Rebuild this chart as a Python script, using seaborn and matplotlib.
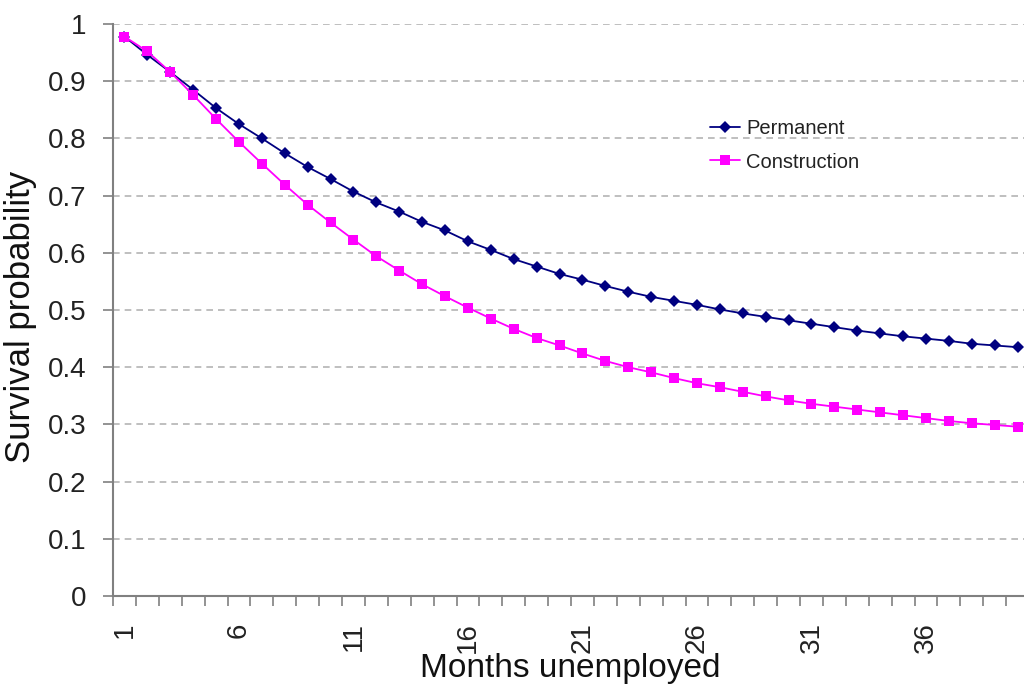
import numpy as np
import pandas as pd
import matplotlib
matplotlib.use("Agg")
import matplotlib.pyplot as plt
import seaborn as sns

# ---- data ----
months = list(range(1, 41))
permanent = [0.978, 0.946, 0.916, 0.885, 0.853, 0.825, 0.800, 0.774, 0.750, 0.729,
             0.707, 0.688, 0.672, 0.654, 0.639, 0.620, 0.605, 0.589, 0.576, 0.563,
             0.553, 0.542, 0.532, 0.523, 0.516, 0.509, 0.501, 0.494, 0.488, 0.482,
             0.476, 0.470, 0.464, 0.459, 0.454, 0.450, 0.446, 0.441, 0.438, 0.435]
construction = [0.978, 0.952, 0.916, 0.876, 0.834, 0.794, 0.756, 0.719, 0.684, 0.653,
                0.623, 0.594, 0.569, 0.545, 0.524, 0.504, 0.485, 0.467, 0.451, 0.438,
                0.424, 0.411, 0.400, 0.391, 0.381, 0.372, 0.365, 0.357, 0.349, 0.342,
                0.336, 0.331, 0.326, 0.321, 0.316, 0.311, 0.306, 0.302, 0.299, 0.296]
series_names = ["Permanent", "Construction"]
x_tick_labels = ["1", "6", "11", "16", "21", "26", "31", "36"]
y_tick_values = [0, 0.1, 0.2, 0.3, 0.4, 0.5, 0.6, 0.7, 0.8, 0.9, 1.0]
y_tick_labels = ["0", "0.1", "0.2", "0.3", "0.4", "0.5", "0.6", "0.7", "0.8", "0.9", "1"]

df = pd.DataFrame({
    "month": months * 2,
    "prob": permanent + construction,
    "series": [series_names[0]] * len(months) + [series_names[1]] * len(months),
})

sns.set_theme(style="white")
plt.rcParams["font.family"] = ["Liberation Sans", "DejaVu Sans"]

fig = plt.figure(figsize=(10.24, 6.96), dpi=100)
ax = fig.add_axes([113 / 1024, 1 - 596 / 696, 916 / 1024, 572 / 696])

colors = {"Permanent": "#000080", "Construction": "#ff00ff"}
markers = {"Permanent": "D", "Construction": "s"}
sizes = {"Permanent": 6, "Construction": 7}
for name in series_names:
    sub = df[df["series"] == name]
    sns.lineplot(data=sub, x="month", y="prob", ax=ax, color=colors[name],
                 marker=markers[name], markersize=sizes[name], markeredgewidth=0,
                 linewidth=1.3, label=name)

# axes limits and grid
ax.set_xlim(0.5, 40.5)
ax.set_ylim(0, 1)
for v in y_tick_values[1:]:
    ax.axhline(v, color="#b4b4b4", linewidth=1.2, linestyle=(0, (4, 3)), zorder=0)

# y ticks
ax.set_yticks(y_tick_values)
ax.set_yticklabels(y_tick_labels)
ax.tick_params(axis="y", which="major", direction="out", length=7, width=1.2,
               color="#808080", labelsize=20, pad=12, left=True, labelcolor="#222222")

# x ticks: labels at every 5th month, tick marks at category boundaries
label_pos = [int(s) for s in x_tick_labels]
ax.set_xticks(label_pos)
ax.set_xticklabels(x_tick_labels, rotation=90, va="top")
ax.set_xticks(np.arange(0.5, 41, 1.0), minor=True)
ax.tick_params(axis="x", which="major", length=0, labelsize=20, pad=19,
               labelcolor="#222222")
ax.tick_params(axis="x", which="minor", direction="out", length=7, width=1.2,
               color="#808080", bottom=True)

for s in ["top", "right"]:
    ax.spines[s].set_visible(False)
for s in ["left", "bottom"]:
    ax.spines[s].set_color("#808080")
    ax.spines[s].set_linewidth(1.5)

ax.set_xlabel("Months unemployed", fontsize=24, color="#111111")
ax.xaxis.set_label_coords(0.499, -0.100)
ax.set_ylabel("Survival probability", fontsize=25, color="#111111")
ax.yaxis.set_label_coords(-0.083, 0.488)

leg = ax.legend(loc="upper left", bbox_to_anchor=(710 / 1024, 1 - 119 / 696),
                bbox_transform=fig.transFigure, frameon=False, fontsize=14.5,
                handlelength=1.5, handletextpad=0.3, labelspacing=0.72,
                borderpad=0, borderaxespad=0)
for t in leg.get_texts():
    t.set_color("#222222")

fig.savefig("out.png", dpi=100)
